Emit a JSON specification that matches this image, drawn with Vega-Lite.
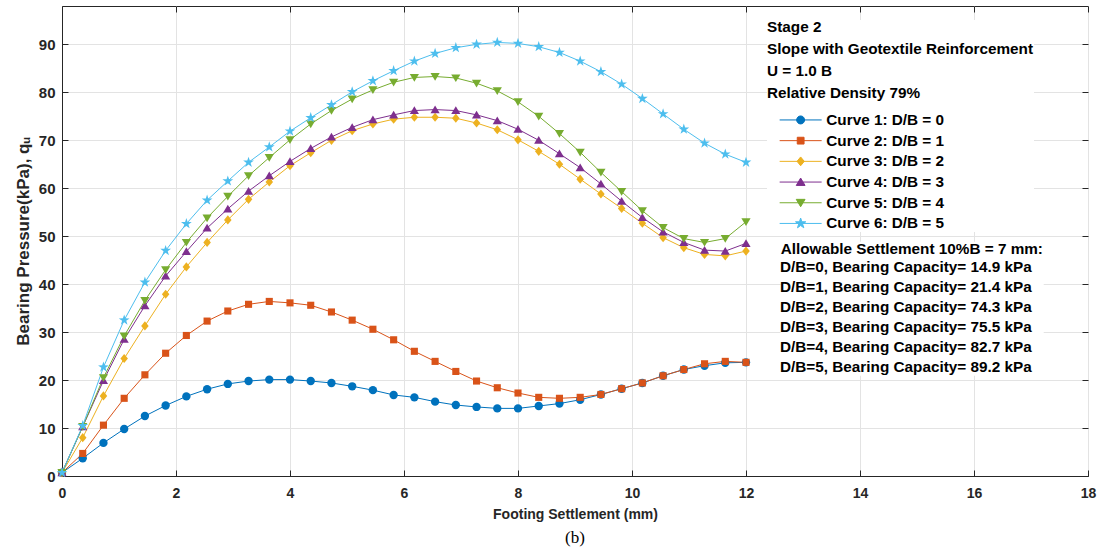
{
  "$schema": "https://vega.github.io/schema/vega-lite/v6.json",
  "width": 1026,
  "height": 470,
  "autosize": {"type": "none"},
  "padding": {"left": 62, "top": 6, "right": 9, "bottom": 71},
  "title": {"text": "(b)", "orient": "bottom", "anchor": "middle", "frame": "group", "font": "Liberation Serif", "fontSize": 17, "fontWeight": "normal", "color": "#000000", "offset": 9},
  "datasets": {
    "pts": [
      {"s": 0, "c1": 0.7, "c2": 0.7, "c3": 0.7, "c4": 0.7, "c5": 0.7, "c6": 0.7},
      {"s": 0.3636, "c1": 3.7, "c2": 4.7, "c3": 8.0, "c4": 10.3, "c5": 10.3, "c6": 10.5},
      {"s": 0.7273, "c1": 6.9, "c2": 10.6, "c3": 16.7, "c4": 19.9, "c5": 20.5, "c6": 22.7},
      {"s": 1.0909, "c1": 9.8, "c2": 16.2, "c3": 24.5, "c4": 28.5, "c5": 29.2, "c6": 32.5},
      {"s": 1.4545, "c1": 12.5, "c2": 21.1, "c3": 31.3, "c4": 35.5, "c5": 36.6, "c6": 40.4},
      {"s": 1.8182, "c1": 14.7, "c2": 25.6, "c3": 37.9, "c4": 41.7, "c5": 43.0, "c6": 47.0},
      {"s": 2.1818, "c1": 16.6, "c2": 29.3, "c3": 43.6, "c4": 46.8, "c5": 48.7, "c6": 52.6},
      {"s": 2.5455, "c1": 18.1, "c2": 32.3, "c3": 48.7, "c4": 51.7, "c5": 53.8, "c6": 57.5},
      {"s": 2.9091, "c1": 19.2, "c2": 34.4, "c3": 53.4, "c4": 55.7, "c5": 58.3, "c6": 61.5},
      {"s": 3.2727, "c1": 19.8, "c2": 35.8, "c3": 57.7, "c4": 59.4, "c5": 62.6, "c6": 65.4},
      {"s": 3.6364, "c1": 20.1, "c2": 36.4, "c3": 61.3, "c4": 62.6, "c5": 66.4, "c6": 68.6},
      {"s": 4.0, "c1": 20.1, "c2": 36.1, "c3": 64.7, "c4": 65.6, "c5": 70.1, "c6": 71.9},
      {"s": 4.3636, "c1": 19.8, "c2": 35.6, "c3": 67.4, "c4": 68.3, "c5": 73.4, "c6": 74.7},
      {"s": 4.7273, "c1": 19.4, "c2": 34.2, "c3": 70.0, "c4": 70.7, "c5": 76.2, "c6": 77.4},
      {"s": 5.0909, "c1": 18.7, "c2": 32.5, "c3": 72.0, "c4": 72.7, "c5": 78.6, "c6": 80.1},
      {"s": 5.4545, "c1": 17.9, "c2": 30.6, "c3": 73.4, "c4": 74.3, "c5": 80.5, "c6": 82.4},
      {"s": 5.8182, "c1": 16.9, "c2": 28.4, "c3": 74.4, "c4": 75.3, "c5": 82.1, "c6": 84.5},
      {"s": 6.1818, "c1": 16.4, "c2": 26.0, "c3": 74.8, "c4": 76.2, "c5": 83.1, "c6": 86.5},
      {"s": 6.5455, "c1": 15.5, "c2": 23.9, "c3": 74.8, "c4": 76.4, "c5": 83.3, "c6": 88.1},
      {"s": 6.9091, "c1": 14.8, "c2": 21.8, "c3": 74.6, "c4": 76.2, "c5": 83.0, "c6": 89.3},
      {"s": 7.2727, "c1": 14.4, "c2": 19.8, "c3": 73.6, "c4": 75.3, "c5": 81.9, "c6": 90.0},
      {"s": 7.6364, "c1": 14.1, "c2": 18.4, "c3": 72.2, "c4": 74.1, "c5": 80.3, "c6": 90.4},
      {"s": 8.0, "c1": 14.1, "c2": 17.3, "c3": 70.1, "c4": 72.3, "c5": 78.0, "c6": 90.2},
      {"s": 8.3636, "c1": 14.6, "c2": 16.4, "c3": 67.7, "c4": 70.0, "c5": 75.0, "c6": 89.5},
      {"s": 8.7273, "c1": 15.1, "c2": 16.2, "c3": 65.0, "c4": 67.2, "c5": 71.4, "c6": 88.3},
      {"s": 9.0909, "c1": 15.9, "c2": 16.4, "c3": 61.9, "c4": 64.3, "c5": 67.5, "c6": 86.5},
      {"s": 9.4545, "c1": 17.0, "c2": 17.0, "c3": 58.8, "c4": 60.9, "c5": 63.3, "c6": 84.3},
      {"s": 9.8182, "c1": 18.2, "c2": 18.2, "c3": 55.8, "c4": 57.3, "c5": 59.3, "c6": 81.7},
      {"s": 10.1818, "c1": 19.4, "c2": 19.4, "c3": 52.7, "c4": 53.9, "c5": 55.3, "c6": 78.7},
      {"s": 10.5455, "c1": 20.9, "c2": 20.9, "c3": 49.7, "c4": 50.9, "c5": 51.8, "c6": 75.5},
      {"s": 10.9091, "c1": 22.2, "c2": 22.2, "c3": 47.6, "c4": 48.7, "c5": 49.5, "c6": 72.3},
      {"s": 11.2727, "c1": 23.0, "c2": 23.4, "c3": 46.2, "c4": 47.1, "c5": 48.7, "c6": 69.4},
      {"s": 11.6364, "c1": 23.6, "c2": 23.9, "c3": 45.9, "c4": 46.9, "c5": 49.5, "c6": 67.1},
      {"s": 12.0, "c1": 23.7, "c2": 23.7, "c3": 46.9, "c4": 48.5, "c5": 53.0, "c6": 65.4}
    ],
    "meta": [
      {"key": "c1", "curve": "Curve 1: D/B = 0", "cap": "D/B=0, Bearing Capacity= 14.9 kPa"},
      {"key": "c2", "curve": "Curve 2: D/B = 1", "cap": "D/B=1, Bearing Capacity= 21.4 kPa"},
      {"key": "c3", "curve": "Curve 3: D/B = 2", "cap": "D/B=2, Bearing Capacity= 74.3 kPa"},
      {"key": "c4", "curve": "Curve 4: D/B = 3", "cap": "D/B=3, Bearing Capacity= 75.5 kPa"},
      {"key": "c5", "curve": "Curve 5: D/B = 4", "cap": "D/B=4, Bearing Capacity= 82.7 kPa"},
      {"key": "c6", "curve": "Curve 6: D/B = 5", "cap": "D/B=5, Bearing Capacity= 89.2 kPa"}
    ]
  },
  "data": {"name": "pts"},
  "transform": [
    {"fold": ["c1", "c2", "c3", "c4", "c5", "c6"], "as": ["key", "q"]},
    {"lookup": "key", "from": {"data": {"name": "meta"}, "key": "key", "fields": ["curve", "cap"]}}
  ],
  "layer": [
    {
      "mark": {"type": "line", "strokeWidth": 1},
      "encoding": {
        "x": {"field": "s", "type": "quantitative", "scale": {"domain": [0, 18], "nice": false, "zero": false},
          "axis": {"orient": "bottom", "values": [0, 2, 4, 6, 8, 10, 12, 14, 16, 18], "title": "Footing Settlement (mm)", "titleFontSize": 14, "labelFontSize": 14, "labelPadding": 16, "titlePadding": 7, "grid": true}},
        "y": {"field": "q", "type": "quantitative", "scale": {"domain": [0, 98], "nice": false},
          "axis": {"orient": "left", "values": [0, 10, 20, 30, 40, 50, 60, 70, 80, 90], "title": "Bearing Pressure(kPa), qᵤ", "titleFontSize": 17, "labelFontSize": 15, "labelPadding": 13, "titlePadding": 6, "grid": true}},
        "color": {"field": "curve", "type": "nominal",
          "scale": {"range": ["#0072BD", "#D95319", "#EDB120", "#7E2F8E", "#77AC30", "#4DBEEE"]},
          "legend": {
            "orient": "none", "legendX": 705, "legendY": 14, "padding": 0, "fillColor": "white",
            "title": ["Stage 2", "Slope with Geotextile Reinforcement", "\u00a0U = 1.0 B", "\u00a0Relative Density 79%"],
            "titleFontSize": 15.3, "titleFontWeight": "bold", "titleColor": "#000000", "titleLineHeight": 22, "titlePadding": 11, "titleAnchor": "start", "titleLimit": 300,
            "labelFontSize": 15.3, "labelFontWeight": "bold", "labelColor": "#000000", "labelOffset": 18, "labelLimit": 200,
            "symbolSize": 64, "symbolOffset": 26, "rowPadding": 4.7,
            "encode": {"symbols": {"update": {
              "shape": {"signal": "['M-5.25,0L5.25,0M1,0A1,1,0,1,1,-1,0A1,1,0,1,1,1,0Z','M-5.25,0L5.25,0M-0.85,-0.85L0.85,-0.85L0.85,0.85L-0.85,0.85Z','M-5.25,0L5.25,0M0,-1.1L0.9,0L0,1.1L-0.9,0Z','M-5.25,0L5.25,0M0,-1L1.1,0.85L-1.1,0.85Z','M-5.25,0L5.25,0M0,1L1.1,-0.85L-1.1,-0.85Z','M-5.25,0L5.25,0M0,-1.35L0.306,-0.421L1.284,-0.417L0.495,0.161L0.794,1.092L0,0.52L-0.794,1.092L-0.495,0.161L-1.284,-0.417L-0.306,-0.421Z'][datum.index]"},
              "stroke": {"scale": "color", "field": "value"},
              "strokeWidth": {"value": 1}
            }}}
          }},
        "opacity": {"field": "cap", "type": "nominal", "scale": {"range": [1, 1]},
          "legend": {
            "orient": "none", "legendX": 718.7, "legendY": 235.7, "padding": 0, "fillColor": "white",
            "title": "Allowable Settlement 10%B = 7 mm:",
            "titleFontSize": 15.3, "titleFontWeight": "bold", "titleColor": "#000000", "titlePadding": 2.6, "titleLimit": 300,
            "labelFontSize": 15.3, "labelFontWeight": "bold", "labelColor": "#000000", "labelOffset": -16, "labelLimit": 300,
            "symbolSize": 0, "symbolOffset": 0, "symbolOpacity": 0, "symbolStrokeWidth": 0, "rowPadding": 3.9
          }}
      }
    },
    {
      "mark": {"type": "point", "filled": true, "size": 70, "opacity": 1},
      "encoding": {
        "x": {"field": "s", "type": "quantitative",
          "axis": {"orient": "top", "values": [0, 2, 4, 6, 8, 10, 12, 14, 16, 18], "labels": false, "grid": false, "domain": false, "title": null}},
        "y": {"field": "q", "type": "quantitative",
          "axis": {"orient": "right", "values": [0, 10, 20, 30, 40, 50, 60, 70, 80, 90], "labels": false, "grid": false, "domain": false, "title": null}},
        "color": {"field": "curve", "type": "nominal"},
        "shape": {"field": "curve", "type": "nominal",
          "scale": {"range": ["circle", "M-0.85,-0.85L0.85,-0.85L0.85,0.85L-0.85,0.85Z", "M0,-1.1L0.9,0L0,1.1L-0.9,0Z", "M0,-1L1.1,0.85L-1.1,0.85Z", "M0,1L1.1,-0.85L-1.1,-0.85Z", "M0,-1.35L0.306,-0.421L1.284,-0.417L0.495,0.161L0.794,1.092L0,0.52L-0.794,1.092L-0.495,0.161L-1.284,-0.417L-0.306,-0.421Z"]}}
      }
    }
  ],
  "resolve": {"axis": {"x": "independent", "y": "independent"}},
  "config": {
    "font": "Liberation Sans",
    "view": {"stroke": "#262626", "strokeWidth": 1},
    "axis": {"labelFont": "Liberation Sans", "labelFontWeight": "bold", "labelColor": "#262626", "titleFont": "Liberation Sans", "titleFontWeight": "bold", "titleColor": "#262626", "gridColor": "#e3e3e3", "gridWidth": 1, "domainColor": "#262626", "tickColor": "#262626", "tickSize": -6, "labelFlush": false, "labelOverlap": false},
    "legend": {"labelFont": "Liberation Sans", "titleFont": "Liberation Sans"}
  }
}
